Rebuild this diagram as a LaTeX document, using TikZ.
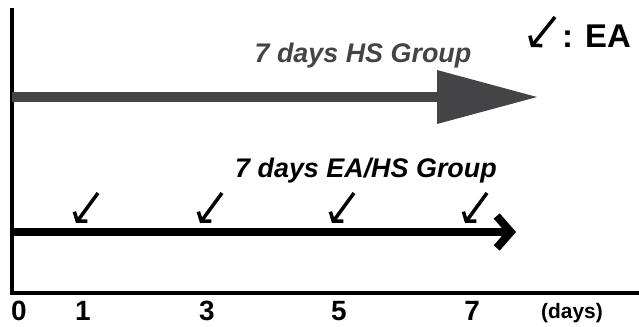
\documentclass[tikz,border=0pt]{standalone}
\usepackage{fontspec}
\setmainfont{Liberation Sans}
\usetikzlibrary{arrows.meta}
\definecolor{hsgray}{RGB}{68,68,70}
\begin{document}
\begin{tikzpicture}[x=1bp,y=-1bp,
  grp/.style={font=\fontsize{27}{30}\selectfont\bfseries\itshape, inner sep=0pt, anchor=base},
  daylbl/.style={font=\fontsize{28}{30}\selectfont\bfseries, inner sep=0pt, anchor=base},
  unitlbl/.style={font=\fontsize{21}{24}\selectfont\bfseries, inner sep=0pt, anchor=base},
  legendlbl/.style={font=\fontsize{33}{36}\selectfont\bfseries, inner sep=0pt, anchor=base east},
  axisline/.style={line width=4bp, line join=miter},
  hsarrow/.style={hsgray, line width=10bp, -{Triangle[length=100bp,width=54bp,line width=0pt]}},
  eahsarrow/.style={black, line width=8bp, -{Straight Barb[length=14bp,width=32bp]}},
  eaarrow/.style={black, line width=3.5bp, -{Straight Barb[length=6bp,width=16bp]}}]
\useasboundingbox (0,0) rectangle (639,326);
% axes
\coordinate (ytop) at (12,8);
\coordinate (orig) at (12,293);
\coordinate (xend) at (639,293);
\draw[axisline] (ytop) -- (orig) -- (xend);
% HS group
\coordinate (hsS) at (12,97);
\coordinate (hsE) at (537,97);
\draw[hsarrow] (hsS) -- (hsE);
\node[grp, text=hsgray] (hslbl) at (363,62) {7 days HS Group};
% EA/HS group
\coordinate (eaS) at (12,232);
\coordinate (eaE) at (516,232);
\draw[eahsarrow] (eaS) -- (eaE);
\node[grp] (ealbl) at (366,177) {7 days EA/HS Group};
% EA markers
\coordinate (a1s) at (98,193);  \coordinate (a1e) at (76,223);
\coordinate (a3s) at (222,193); \coordinate (a3e) at (200,223);
\coordinate (a5s) at (354,193); \coordinate (a5e) at (332,223);
\coordinate (a7s) at (487,193); \coordinate (a7e) at (465,223);
\draw[eaarrow] (a1s) -- (a1e);
\draw[eaarrow] (a3s) -- (a3e);
\draw[eaarrow] (a5s) -- (a5e);
\draw[eaarrow] (a7s) -- (a7e);
% legend
\coordinate (ls) at (555,17);
\coordinate (le) at (531,47);
\draw[eaarrow] (ls) -- (le);
\node[legendlbl] (leglbl) at (631,47) {: EA};
% day labels
\node[daylbl] (d0) at (19,320) {0};
\node[daylbl] (d1) at (83,320) {1};
\node[daylbl] (d3) at (207,320) {3};
\node[daylbl] (d5) at (339,320) {5};
\node[daylbl] (d7) at (472,320) {7};
\node[unitlbl] (days) at (572,318) {(days)};
\end{tikzpicture}
\end{document}
